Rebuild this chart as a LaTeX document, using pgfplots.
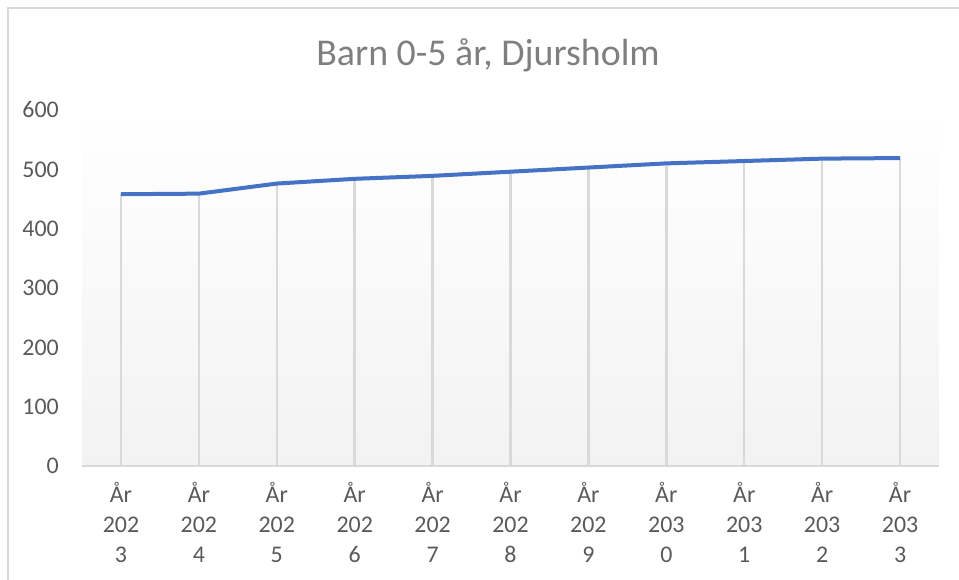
\documentclass[border=0pt]{standalone}
\usepackage{pgfplots}
\pgfplotsset{compat=1.18}
\usepackage{fontspec}
\setmainfont{Carlito}
\definecolor{lineblue}{HTML}{4472C4}
\definecolor{dropgray}{HTML}{D9D9D9}
\definecolor{txtgray}{HTML}{595959}
\definecolor{titlegray}{HTML}{7F7F7F}
\begin{document}
\begin{tikzpicture}[x=1bp,y=1bp]
\path[use as bounding box] (0,0) rectangle (959,580);
\draw[dropgray, line width=1.5bp] (8,0) -- (8,572) -- (959,572);
\node[anchor=base, text=titlegray, font=\fontsize{38}{40}\selectfont] at (488,514) {Barn 0-5 år, Djursholm};
\begin{axis}[
  at={(82bp,114bp)}, anchor=south west,
  scale only axis, width=857bp, height=356bp,
  xmin=-0.5, xmax=10.5, ymin=0, ymax=600,
  ytick={0,100,...,600},
  xtick={0,...,10},
  xticklabels={År\\202\\3,År\\202\\4,År\\202\\5,År\\202\\6,År\\202\\7,År\\202\\8,År\\202\\9,År\\203\\0,År\\203\\1,År\\203\\2,År\\203\\3},
  /pgf/number format/assume math mode=true,
  axis line style={draw=none},
  major tick length=0pt,
  ticklabel style={text=txtgray, font=\fontsize{24}{30}\selectfont},
  yticklabel style={anchor=east, inner sep=0pt, xshift=-23bp},
  xticklabel style={anchor=north, align=center, inner sep=0pt, yshift=-16bp},
  axis background/.style={top color=white, bottom color=black!5},
  clip=false,
]
\addplot[ycomb, dropgray, line width=2.5bp, no marks] coordinates {
(0,458) (1,459) (2,476) (3,484) (4,489) (5,496) (6,503) (7,510) (8,514) (9,518) (10,519)};
\draw[dropgray, line width=2bp] (axis cs:-0.5,0) -- (axis cs:10.5,0);
\addplot[lineblue, line width=4bp, no marks, line join=round] coordinates {
(0,458) (1,459) (2,476) (3,484) (4,489) (5,496) (6,503) (7,510) (8,514) (9,518) (10,519)};
\end{axis}
\end{tikzpicture}
\end{document}
